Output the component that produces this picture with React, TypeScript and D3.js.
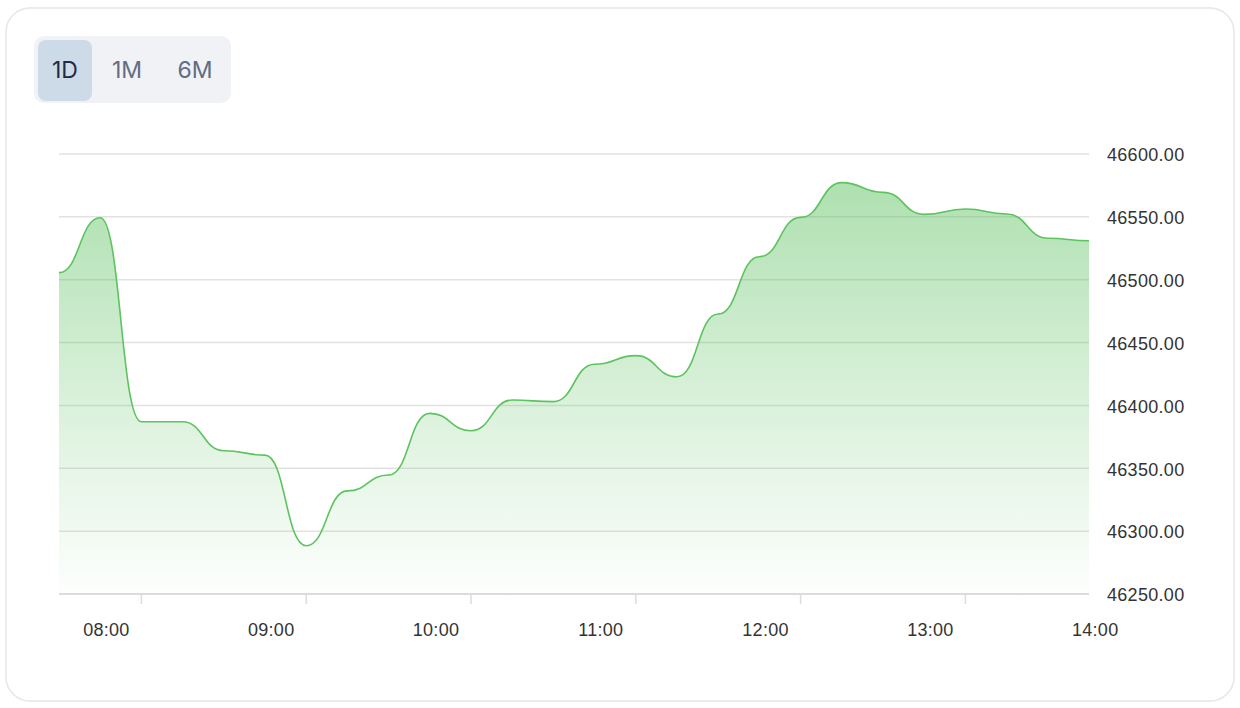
import React from "react";
import * as d3 from "d3";

const startTime = "07:30";
const stepMinutes = 15;
const prices = [
  46505.6, 46549.3, 46387.0, 46387.0, 46364.0, 46360.5, 46288.4, 46332.0,
  46344.7, 46393.7, 46379.9, 46404.3, 46403.0, 46432.7, 46439.6, 46422.8,
  46472.7, 46518.3, 46549.6, 46577.2, 46569.5, 46552.0, 46556.2, 46552.3,
  46533.0, 46531.0,
];
const xTickLabels = ["08:00", "09:00", "10:00", "11:00", "12:00", "13:00", "14:00"];
const yTicks = [46250, 46300, 46350, 46400, 46450, 46500, 46550, 46600];
const ranges = ["1D", "1M", "6M"];
const selectedRange = "1D";

const W = 1240;
const H = 708;
const plot = { left: 59, right: 1089, top: 154, bottom: 594 };
const SMOOTH = 0.5;

const toMin = (s: string) => {
  const [h, m] = s.split(":").map(Number);
  return h * 60 + m;
};

// Smooth curve with horizontal tangents at each point (monotone in x)
class FlatX {
  _context: any;
  _line: any;
  _pts: [number, number][] = [];
  constructor(context: any) {
    this._context = context;
  }
  areaStart() {
    this._line = 0;
  }
  areaEnd() {
    this._line = NaN;
  }
  lineStart() {
    this._pts = [];
  }
  lineEnd() {
    const p = this._pts;
    const c = this._context;
    if (p.length) {
      if (this._line) c.lineTo(p[0][0], p[0][1]);
      else c.moveTo(p[0][0], p[0][1]);
      for (let i = 1; i < p.length; i++) {
        const [x0, y0] = p[i - 1];
        const [x1, y1] = p[i];
        const dx = (x1 - x0) * SMOOTH;
        c.bezierCurveTo(x0 + dx, y0, x1 - dx, y1, x1, y1);
      }
    }
    if (this._line || (this._line !== 0 && p.length === 1)) c.closePath();
    this._line = 1 - this._line;
  }
  point(x: number, y: number) {
    this._pts.push([+x, +y]);
  }
}
const curveFlatX = (context: any) => new FlatX(context) as any;

export default function App() {
  const t0 = toMin(startTime);
  const data = prices.map((v, i) => ({ t: t0 + i * stepMinutes, v }));
  const x = d3
    .scaleLinear()
    .domain([data[0].t, data[data.length - 1].t])
    .range([plot.left, plot.right]);
  const y = d3
    .scaleLinear()
    .domain([46250, 46600])
    .range([plot.bottom, plot.top]);

  const line = d3
    .line<{ t: number; v: number }>()
    .x((d) => x(d.t))
    .y((d) => y(d.v))
    .curve(curveFlatX);
  const area = d3
    .area<{ t: number; v: number }>()
    .x((d) => x(d.t))
    .y0(plot.bottom)
    .y1((d) => y(d.v))
    .curve(curveFlatX);

  const yMaxPix = y(d3.max(prices) as number);
  const axisFont = "'Liberation Sans', Arial, Helvetica, sans-serif";

  const btnX = [38, 101, 164];
  const btnW = 54;

  return (
    <svg
      width={W}
      height={H}
      style={{ position: "absolute", left: 0, top: 0, background: "#fff" }}
    >
      <defs>
        <linearGradient
          id="fillGrad"
          gradientUnits="userSpaceOnUse"
          x1={0}
          x2={0}
          y1={yMaxPix}
          y2={plot.bottom}
        >
          <stop offset="0%" stopColor="#4cbb50" stopOpacity={0.45} />
          <stop offset="55%" stopColor="#4cbb50" stopOpacity={0.2} />
          <stop offset="100%" stopColor="#4cbb50" stopOpacity={0.01} />
        </linearGradient>
      </defs>

      <rect
        x={6}
        y={8}
        width={1228}
        height={693}
        rx={24}
        fill="#fff"
        stroke="#e6e6eb"
        strokeWidth={1.5}
      />

      {/* range buttons */}
      <rect x={34} y={36} width={197} height={67} rx={10} fill="#f1f2f6" />
      {ranges.map((r, i) => (
        <g key={r}>
          {r === selectedRange && (
            <rect x={btnX[i]} y={40} width={btnW} height={61} rx={8} fill="#cddae7" />
          )}
          <text
            x={btnX[i] + btnW / 2 + (i === 0 ? 0 : i === 1 ? -1 : 4)}
            y={70}
            dy="0.35em"
            textAnchor="middle"
            fontFamily="Inter, 'Noto Sans', sans-serif"
            fontSize={23}
            fill={r === selectedRange ? "#1f2a48" : "#646b84"}
          >
            {r}
          </text>
        </g>
      ))}

      {/* grid lines */}
      {yTicks.map((v) => (
        <line
          key={v}
          x1={plot.left}
          x2={plot.right}
          y1={y(v)}
          y2={y(v)}
          stroke={v === 46250 ? "#dcdcdc" : "#e2e2e2"}
          strokeWidth={v === 46250 ? 2 : 1.5}
        />
      ))}

      {/* area + line */}
      <path d={area(data) || ""} fill="url(#fillGrad)" />
      <path d={line(data) || ""} fill="none" stroke="#5cc35f" strokeWidth={1.6} />

      {/* y labels */}
      {yTicks.map((v) => (
        <text
          key={v}
          x={1107}
          y={y(v) + 1}
          dy="0.35em"
          fontFamily={axisFont}
          fontSize={18}
          letterSpacing={0.3}
          fill="#333"
        >
          {d3.format(".2f")(v)}
        </text>
      ))}

      {/* x ticks & labels */}
      {xTickLabels.map((lab) => {
        const px = x(toMin(lab));
        return (
          <g key={lab}>
            {px <= plot.right && (
              <line x1={px} x2={px} y1={plot.bottom} y2={plot.bottom + 10} stroke="#dcdcdc" strokeWidth={1.5} />
            )}
            <text
              x={px - 35}
              y={630}
              dy="0.35em"
              textAnchor="middle"
              fontFamily={axisFont}
              fontSize={18}
              letterSpacing={0.3}
              fill="#333"
            >
              {lab}
            </text>
          </g>
        );
      })}
    </svg>
  );
}
